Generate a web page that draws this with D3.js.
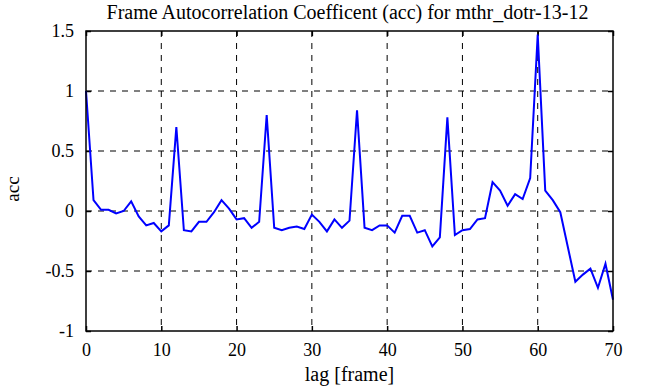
<!DOCTYPE html>
<html>
<head>
<meta charset="utf-8">
<script src="https://cdn.jsdelivr.net/npm/d3@7"></script>
<style>
  body { margin: 0; background: #fff; }
  svg text { font-family: "Liberation Serif", "Times New Roman", serif; fill: #000; }
</style>
</head>
<body>
<div id="chart"></div>
<script>
// lag values 0..70 and the autocorrelation
const lags = d3.range(0, 71);
const acc = [
  1.0, 0.09, 0.01, 0.01, -0.02, 0.0, 0.08, -0.045, -0.12, -0.10,
  -0.17, -0.12, 0.70, -0.16, -0.17, -0.09, -0.09, -0.01, 0.09, 0.02,
  -0.07, -0.06, -0.14, -0.09, 0.80, -0.14, -0.16, -0.14, -0.13, -0.15,
  -0.03, -0.09, -0.17, -0.07, -0.14, -0.08, 0.84, -0.14, -0.16, -0.12,
  -0.12, -0.18, -0.04, -0.04, -0.18, -0.16, -0.295, -0.22, 0.78, -0.20,
  -0.16, -0.15, -0.07, -0.06, 0.24, 0.17, 0.044, 0.14, 0.10, 0.275,
  1.47, 0.17, 0.09, -0.01, -0.30, -0.59, -0.53, -0.48, -0.64, -0.44,
  -0.74
];
const xTicks = [0, 10, 20, 30, 40, 50, 60, 70];
const yTicks = [-1, -0.5, 0, 0.5, 1, 1.5];
const yTickLabels = ["-1", "-0.5", "0", "0.5", "1", "1.5"];

const chartTitle = "Frame Autocorrelation Coefficent (acc) for mthr_dotr-13-12";
const xAxisTitle = "lag [frame]";
const yAxisTitle = "acc";

const width = 651, height = 387;
const margin = { top: 31, right: 38, bottom: 56, left: 86 };
const w = width - margin.left - margin.right;
const h = height - margin.top - margin.bottom;
const serif = "Liberation Serif";

const svg = d3.select("#chart").append("svg")
  .attr("width", width)
  .attr("height", height);

const g = svg.append("g")
  .attr("transform", `translate(${margin.left},${margin.top})`);

const x = d3.scaleLinear().domain([0, 70]).range([0, w]);
const y = d3.scaleLinear().domain([-1, 1.5]).range([h, 0]);

// dashed grid
g.append("g")
  .selectAll("line")
  .data(xTicks.slice(1, -1))
  .enter().append("line")
  .attr("x1", d => x(d)).attr("x2", d => x(d))
  .attr("y1", 0).attr("y2", h)
  .style("stroke", "#000").style("stroke-width", 1)
  .style("stroke-dasharray", "6,6");

g.append("g")
  .selectAll("line")
  .data(yTicks.slice(1, -1))
  .enter().append("line")
  .attr("x1", 0).attr("x2", w)
  .attr("y1", d => y(d)).attr("y2", d => y(d))
  .style("stroke", "#000").style("stroke-width", 1)
  .style("stroke-dasharray", "6,6");

// axes with inward ticks on all four sides
const xAxis = d3.axisBottom(x).tickValues(xTicks).tickSizeInner(-5).tickSizeOuter(0)
  .tickPadding(12).tickFormat(d3.format("d"));
const yAxis = d3.axisLeft(y).tickValues(yTicks).tickSizeInner(-5).tickSizeOuter(0)
  .tickPadding(12).tickFormat((d, i) => yTickLabels[i]);

const gx = g.append("g").attr("transform", `translate(0,${h})`).call(xAxis);
const gy = g.append("g").call(yAxis);
g.append("g").call(d3.axisTop(x).tickValues(xTicks).tickSizeInner(-5).tickSizeOuter(0).tickFormat(""));
g.append("g").attr("transform", `translate(${w},0)`)
  .call(d3.axisRight(y).tickValues(yTicks).tickSizeInner(-5).tickSizeOuter(0).tickFormat(""));

g.selectAll(".domain").remove();
g.selectAll(".tick line").style("stroke", "#000").style("stroke-width", 1.5);
[gx, gy].forEach(a => {
  a.attr("font-family", serif).attr("font-size", 18);
  a.selectAll("text").attr("font-family", serif).style("font-size", "18px");
});

// the series
const line = d3.line()
  .x((d, i) => x(lags[i]))
  .y(d => y(d));

g.append("path")
  .datum(acc)
  .attr("d", line)
  .style("fill", "none")
  .style("stroke", "#0000ff")
  .style("stroke-width", 2);

// frame
g.append("rect")
  .attr("width", w).attr("height", h)
  .style("fill", "none").style("stroke", "#000").style("stroke-width", 1.5);

// titles
svg.append("text")
  .attr("x", margin.left + w / 2 - 2)
  .attr("y", 19)
  .attr("text-anchor", "middle")
  .style("font-size", "20px")
  .text(chartTitle);

svg.append("text")
  .attr("x", margin.left + w / 2)
  .attr("y", 381)
  .attr("text-anchor", "middle")
  .style("font-size", "20px")
  .text(xAxisTitle);

svg.append("text")
  .attr("transform", "rotate(-90)")
  .attr("x", -189)
  .attr("y", 19)
  .attr("text-anchor", "middle")
  .style("font-size", "19px")
  .text(yAxisTitle);
</script>
</body>
</html>
